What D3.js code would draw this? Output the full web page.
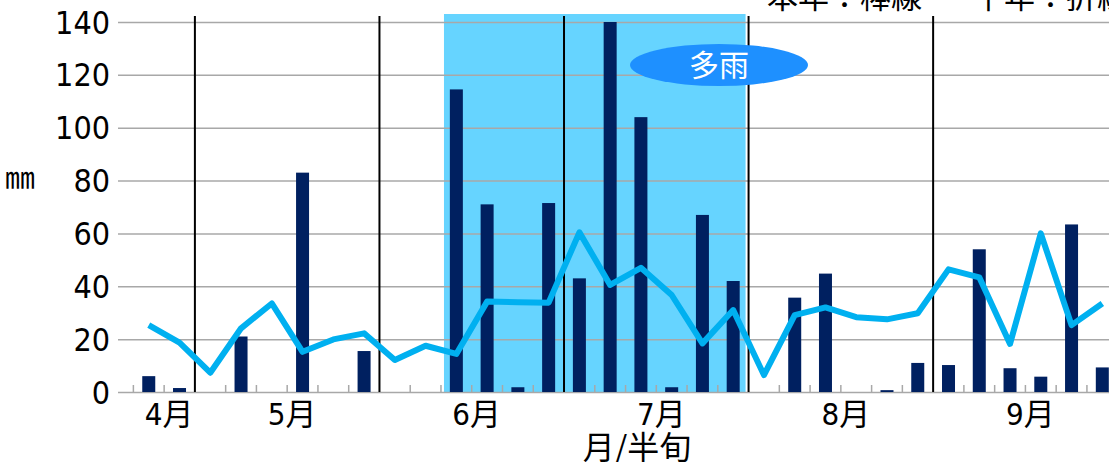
<!DOCTYPE html>
<html>
<head>
<meta charset="utf-8">
<title>降水量 半旬</title>
<script src="https://d3js.org/d3.v7.min.js"></script>
<style>
  body { margin: 0; background: #fff; }
  text { font-family: "DejaVu Sans Condensed", "DejaVu Sans", "Noto Sans CJK JP", sans-serif; fill: #000; }
</style>
</head>
<body>
<script>
// 月と半旬 (4月5半旬 〜 9月6半旬)
var months = ["4月", "5月", "6月", "7月", "8月", "9月"];
var firstPentad = 4; // 0 = 4月1半旬
// 本年 (棒線) mm
var thisYear = [6, 1.5,
  0, 21, 0, 83, 0, 15.5,
  0, 0, 114.5, 71, 1.8, 71.5,
  43, 140, 104, 1.8, 67, 42,
  0, 35.7, 44.8, 0, 0.7, 11,
  10.2, 54, 9, 5.8, 63.4, 9.3];
// 平年 (折線) mm
var normal = [25.3, 18.7,
  7.3, 24.1, 33.5, 15.2, 19.9, 22.2,
  12.1, 17.5, 14.4, 34.2, 34, 33.8,
  60.4, 40.5, 47, 36.7, 18.4, 31,
  6.4, 29.1, 32, 28.3, 27.5, 29.8,
  46.4, 43.4, 18.2, 60, 25.3, 33.5];
var yTicks = [0, 20, 40, 60, 80, 100, 120, 140];
var wetPeriod = [14, 23]; // 多雨: 6月3半旬 〜 7月6半旬

var W = 1109, H = 462;
var svg = d3.select("body").append("svg")
  .attr("width", W).attr("height", H);

var x = d3.scaleLinear().domain([3, 35.25]).range([118, 1110]);
var y = d3.scaleLinear().domain([0, 140]).range([392, 22]);

// 多雨の期間
svg.append("rect")
  .attr("x", x(wetPeriod[0] - 0.5) + 3)
  .attr("y", 14)
  .attr("width", x(wetPeriod[1] + 0.5) - 3 - (x(wetPeriod[0] - 0.5) + 3))
  .attr("height", y(0) - 14)
  .attr("fill", "#66d4ff");

// 目盛線
svg.append("g")
  .attr("transform", "translate(118,0)")
  .call(d3.axisLeft(y).tickValues(yTicks).tickSize(-(W - 118)).tickFormat(""))
  .call(function(g) {
    g.select(".domain").remove();
    g.selectAll("line").attr("stroke", "#a8a8a8").attr("stroke-width", 1.5);
  });

// y ラベル
svg.selectAll(".ylab")
  .data(yTicks)
  .enter()
  .append("text")
    .attr("class", "ylab")
    .attr("x", 110)
    .attr("y", function(d) { return y(d); })
    .attr("dy", "0.36em")
    .attr("text-anchor", "end")
    .style("font-size", "32px")
    .text(function(d) { return d; });

// 半旬の目盛
var pentadIdx = d3.range(firstPentad, firstPentad + thisYear.length);
svg.selectAll(".ptick")
  .data(pentadIdx.map(function(i) { return i - 0.5; }).filter(function(b) { return (b + 0.5) % 6 != 0; }))
  .enter()
  .append("line")
    .attr("class", "ptick")
    .attr("x1", function(d) { return x(d); })
    .attr("x2", function(d) { return x(d); })
    .attr("y1", y(0) - 7)
    .attr("y2", y(0))
    .attr("stroke", "#a8a8a8")
    .attr("stroke-width", 1.5);

// 月の区切り
svg.selectAll(".mline")
  .data(d3.range(1, months.length))
  .enter()
  .append("line")
    .attr("class", "mline")
    .attr("x1", function(m) { return x(m * 6 - 0.5); })
    .attr("x2", function(m) { return x(m * 6 - 0.5); })
    .attr("y1", 16)
    .attr("y2", y(0))
    .attr("stroke", "#000")
    .attr("stroke-width", 2);

// 本年 棒
svg.selectAll(".bar")
  .data(thisYear)
  .enter()
  .append("rect")
    .attr("class", "bar")
    .attr("x", function(d, i) { return x(firstPentad + i) - 6.5; })
    .attr("y", function(d) { return y(d); })
    .attr("width", 13)
    .attr("height", function(d) { return y(0) - y(d); })
    .attr("fill", "#002060");

// 平年 折線
var line = d3.line()
  .x(function(d, i) { return x(firstPentad + i); })
  .y(function(d) { return y(d); });

svg.append("path")
  .datum(normal)
  .attr("d", line)
  .attr("fill", "none")
  .attr("stroke", "#00b0f0")
  .attr("stroke-width", 6)
  .attr("stroke-linejoin", "round");

// 月ラベル
svg.selectAll(".mlab")
  .data(months)
  .enter()
  .append("text")
    .attr("class", "mlab")
    .attr("x", function(d, m) { return x(Math.max(m * 6 + 2.5, firstPentad + 0.5)) + 5; })
    .attr("y", 425)
    .attr("text-anchor", "middle")
    .style("font-size", "31px")
    .text(function(d) { return d; });

svg.append("text")
  .attr("x", 637)
  .attr("y", 459)
  .attr("text-anchor", "middle")
  .style("font-size", "32px")
  .style("font-family", "'Noto Sans CJK JP'")
  .text("月/半旬");

svg.append("text")
  .attr("x", 5)
  .attr("y", 188)
  .style("font-size", "30px")
  .style("font-family", "'Noto Sans CJK JP'")
  .text("㎜");

// 凡例
svg.append("text")
  .attr("x", 767).attr("y", 8)
  .style("font-size", "31px")
  .style("font-family", "'Noto Sans CJK JP'")
  .text("本年：棒線");
svg.append("text")
  .attr("x", 973).attr("y", 8)
  .style("font-size", "31px")
  .style("font-family", "'Noto Sans CJK JP'")
  .text("平年：折線");

// 多雨
svg.append("ellipse")
  .attr("cx", 719).attr("cy", 65)
  .attr("rx", 89).attr("ry", 21)
  .attr("fill", "#1e90ff");
svg.append("text")
  .attr("x", 719).attr("y", 76)
  .attr("text-anchor", "middle")
  .style("font-size", "30px")
  .style("font-family", "'Noto Sans CJK JP'")
  .style("fill", "#fff")
  .text("多雨");
</script>
</body>
</html>
